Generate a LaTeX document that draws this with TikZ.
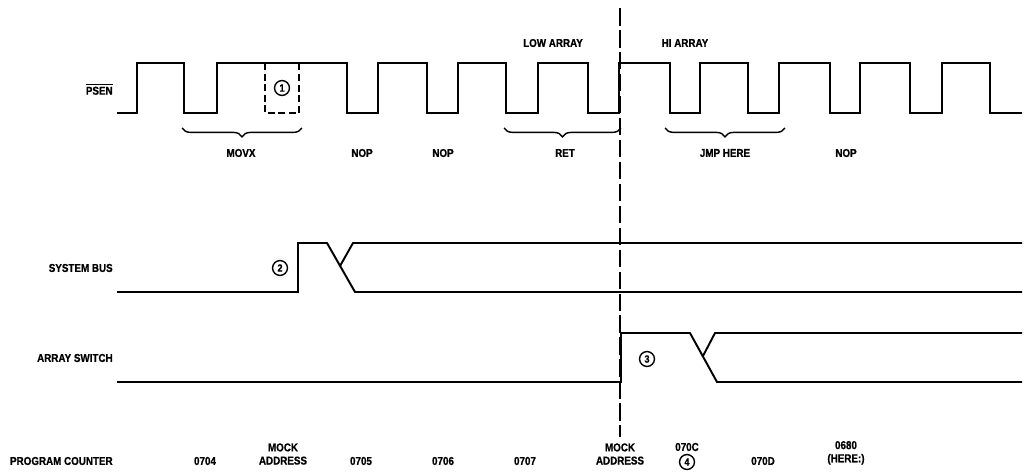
\documentclass[tikz,border=0pt]{standalone}
\usepackage{fontspec}
\setmainfont{Liberation Sans}[FakeStretch=0.86, BoldFeatures={FakeBold=0.8}]
\usetikzlibrary{decorations.pathreplacing}
\tikzset{
  lbl/.style={font=\bfseries\fontsize{6.5}{7.5}\selectfont, inner sep=0pt},
  wave/.style={line width=1.1pt, line join=miter},
  numcirc/.style={draw, circle, line width=0.8pt, minimum size=8.5pt, inner sep=0pt, font=\bfseries\fontsize{6}{6}\selectfont},
  cyclebrace/.style={decorate, decoration={brace, mirror, amplitude=5pt}, line width=0.8pt}
}
\begin{document}
\begin{tikzpicture}[x=0.02cm, y=-0.02cm]
    \useasboundingbox (0,0) rectangle (1025,473);
    % Array boundary
    \draw[line width=0.8pt, dash pattern=on 10pt off 2.5pt] (620,8) -- (620,437);
    \node[lbl] (low) at (553,43) {LOW ARRAY};
    \node[lbl] (hi) at (685,43) {HI ARRAY};
    % Signal names
    \node[lbl, anchor=east] (psen) at (113,89) {$\overline{\mbox{PSEN}}$};
    \node[lbl, anchor=east] (bus) at (113,268) {SYSTEM BUS};
    \node[lbl, anchor=east] (sw) at (113,358) {ARRAY SWITCH};
    \node[lbl, anchor=east] (pc) at (113,461) {PROGRAM COUNTER};
    % PSEN waveform
    \draw[wave] (117,113) -- (137,113) -- (137,63) -- (184,63) -- (184,113) -- (217,113) -- (217,63) -- (347,63)
      -- (347,113) -- (378,113) -- (378,63) -- (427,63) -- (427,113) -- (458,113) -- (458,63) -- (506,63)
      -- (506,113) -- (538,113) -- (538,63) -- (588,63) -- (588,113) -- (619,113) -- (619,63) -- (670,63)
      -- (670,113) -- (700,113) -- (700,63) -- (748,63) -- (748,113) -- (779,113) -- (779,63) -- (830,63)
      -- (830,113) -- (860,113) -- (860,63) -- (910,63) -- (910,113) -- (942,113) -- (942,63) -- (990,63)
      -- (990,113) -- (1022,113);
    % Missing pulse
    \draw[wave, dash pattern=on 4pt off 2pt] (265,63) -- (265,113) -- (299,113) -- (299,63);
    \node[numcirc] (n1) at (282,88) {1};
    % Instruction braces
    \draw[cyclebrace] (182,128) -- (302,128);
    \draw[cyclebrace] (504,128) -- (621,128);
    \draw[cyclebrace] (665,128) -- (785,128);
    \node[lbl] (movx) at (241,153) {MOVX}; \node[lbl] (nop1) at (362,153) {NOP}; \node[lbl] (nop2) at (443,153) {NOP};
    \node[lbl] (ret) at (565,153) {RET}; \node[lbl] (jmp) at (725,153) {JMP HERE}; \node[lbl] (nop3) at (846,153) {NOP};
    % System bus
    \draw[wave] (117,292) -- (298,292) -- (298,243) -- (327,243) -- (355,292) -- (1022,292);
    \draw[wave] (1022,243) -- (353,243) -- (340,266);
    \node[numcirc] (n2) at (280,268) {2};
    % Array switch
    \draw[wave] (117,382) -- (621,382) -- (621,333) -- (690,333) -- (717,382) -- (1022,382);
    \draw[wave] (1022,333) -- (715,333) -- (703,356);
    \node[numcirc] (n3) at (647,359) {3};
    % Program counter values
    \node[lbl] (pc1) at (205,461) {0704};
    \node[lbl, align=center, anchor=south] (pc2) at (283,465) {MOCK\\ADDRESS};
    \node[lbl] (pc3) at (361,461) {0705}; \node[lbl] (pc4) at (443,461) {0706}; \node[lbl] (pc5) at (525,461) {0707};
    \node[lbl, align=center, anchor=south] (pc6) at (620,465) {MOCK\\ADDRESS};
    \node[lbl] (pc7) at (687,447) {070C};
    \node[numcirc] (n4) at (687,462) {4};
    \node[lbl] (pc8) at (763,461) {070D};
    \node[lbl, align=center, anchor=south] (pc9) at (846,465) {0680\\(HERE:)};
\end{tikzpicture}
\end{document}
